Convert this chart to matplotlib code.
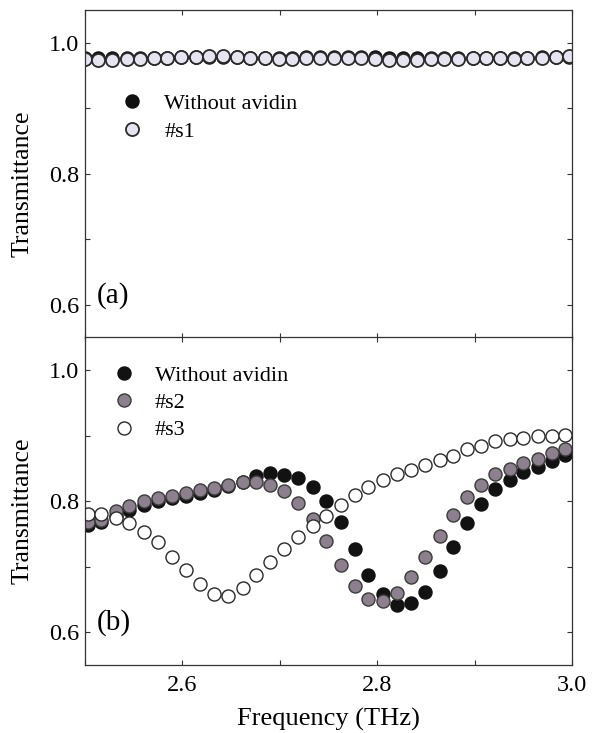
import matplotlib
matplotlib.use("Agg")
import matplotlib.pyplot as plt
from matplotlib.ticker import MultipleLocator, FormatStrFormatter

plt.rcParams['font.family'] = ['Liberation Serif', 'DejaVu Serif']

# panel (a): frequency grid and transmittance
freq_a = [2.500, 2.514, 2.528, 2.543, 2.557, 2.571, 2.585, 2.599, 2.614, 2.628,
          2.642, 2.656, 2.670, 2.685, 2.699, 2.713, 2.727, 2.741, 2.756, 2.770,
          2.784, 2.798, 2.812, 2.827, 2.841, 2.855, 2.869, 2.883, 2.898, 2.912,
          2.926, 2.940, 2.954, 2.969, 2.983, 2.997]
bare_a = [0.977, 0.976, 0.976, 0.976, 0.976, 0.977, 0.977, 0.978, 0.979, 0.979,
          0.979, 0.978, 0.977, 0.977, 0.977, 0.977, 0.978, 0.978, 0.978, 0.978,
          0.978, 0.978, 0.977, 0.977, 0.976, 0.976, 0.976, 0.976, 0.977, 0.977,
          0.977, 0.977, 0.977, 0.978, 0.979, 0.979]
s1 = [0.975, 0.974, 0.974, 0.975, 0.975, 0.976, 0.976, 0.978, 0.979, 0.980,
      0.980, 0.979, 0.977, 0.976, 0.975, 0.975, 0.976, 0.977, 0.976, 0.976,
      0.976, 0.975, 0.974, 0.974, 0.974, 0.975, 0.975, 0.975, 0.976, 0.976,
      0.976, 0.975, 0.976, 0.977, 0.979, 0.980]

# panel (b)
freq_b = [2.503, 2.517, 2.532, 2.546, 2.561, 2.575, 2.590, 2.604, 2.618, 2.633,
          2.647, 2.662, 2.676, 2.690, 2.705, 2.719, 2.734, 2.748, 2.763, 2.777,
          2.791, 2.806, 2.820, 2.835, 2.849, 2.864, 2.878, 2.892, 2.907, 2.921,
          2.936, 2.950, 2.965, 2.979, 2.993]
bare_b = [0.764, 0.769, 0.777, 0.787, 0.795, 0.800, 0.805, 0.808, 0.813, 0.817,
          0.823, 0.830, 0.839, 0.843, 0.840, 0.835, 0.822, 0.801, 0.768, 0.727,
          0.688, 0.659, 0.642, 0.645, 0.662, 0.693, 0.730, 0.767, 0.796, 0.818,
          0.833, 0.844, 0.853, 0.862, 0.871]
s2 = [0.769, 0.772, 0.785, 0.792, 0.800, 0.805, 0.808, 0.812, 0.817, 0.820,
      0.825, 0.830, 0.830, 0.825, 0.815, 0.797, 0.773, 0.739, 0.703, 0.670,
      0.651, 0.647, 0.660, 0.685, 0.715, 0.747, 0.779, 0.806, 0.825, 0.841,
      0.849, 0.858, 0.864, 0.873, 0.879]
s3 = [0.781, 0.780, 0.775, 0.766, 0.753, 0.737, 0.715, 0.695, 0.673, 0.659,
      0.656, 0.668, 0.687, 0.707, 0.727, 0.745, 0.762, 0.777, 0.794, 0.810,
      0.822, 0.832, 0.841, 0.848, 0.855, 0.863, 0.869, 0.879, 0.885, 0.892,
      0.895, 0.897, 0.899, 0.899, 0.901]

fig = plt.figure(figsize=(6.0, 7.33), dpi=100)
ax_a = fig.add_axes([0.141, 0.5393, 0.8125, 0.4471])
ax_b = fig.add_axes([0.141, 0.0928, 0.8125, 0.4468])

ms = 9.4
edge = '#2a2a2a'

ax_a.plot(freq_a, bare_a, 'o', ms=ms, mfc='#111111', mec='#111111', mew=1.0,
          label='Without avidin')
ax_a.plot(freq_a, s1, 'o', ms=ms, mfc='#e6e4f0', mec=edge, mew=1.3, label='#s1')

ax_b.plot(freq_b, bare_b, 'o', ms=ms, mfc='#121212', mec='#121212', mew=1.0,
          label='Without avidin')
ax_b.plot(freq_b, s2, 'o', ms=ms, mfc='#8d808e', mec='#3a3a3a', mew=1.0, label='#s2')
ax_b.plot(freq_b, s3, 'o', ms=ms, mfc='white', mec=edge, mew=1.0, label='#s3')

for ax, tag in [(ax_a, '(a)'), (ax_b, '(b)')]:
    ax.set_xlim(2.5, 3.0)
    ax.set_ylim(0.55, 1.05)
    ax.xaxis.set_major_locator(MultipleLocator(0.2))
    ax.xaxis.set_minor_locator(MultipleLocator(0.1))
    ax.yaxis.set_major_locator(MultipleLocator(0.2))
    ax.yaxis.set_minor_locator(MultipleLocator(0.1))
    ax.xaxis.set_major_formatter(FormatStrFormatter('%.1f'))
    ax.yaxis.set_major_formatter(FormatStrFormatter('%.1f'))
    ax.tick_params(which='both', direction='in', top=True, right=True,
                   length=3.5, width=0.8, color='#333333', labelsize=17.5,
                   pad=4)
    ax.tick_params(axis='x', pad=7)
    for sp in ax.spines.values():
        sp.set_color('#333333')
        sp.set_linewidth(0.9)
    ax.set_ylabel('Transmittance', fontsize=18.5)
    ax.yaxis.set_label_coords(-0.105, 0.47)
    ax.text(0.024, 0.13, tag, transform=ax.transAxes, fontsize=21,
            ha='left', va='center')

ax_a.tick_params(axis='x', labelbottom=False)
ax_b.set_xlabel('Frequency (THz)', fontsize=19, labelpad=9)

ax_a.legend(loc='upper left', bbox_to_anchor=(0.075, 0.745), frameon=False,
            fontsize=16, handlelength=1.0, handletextpad=0.95,
            labelspacing=0.33, borderpad=0, borderaxespad=0)
ax_b.legend(loc='upper left', bbox_to_anchor=(0.058, 0.915), frameon=False,
            fontsize=16, handlelength=1.0, handletextpad=0.9,
            labelspacing=0.3, borderpad=0, borderaxespad=0)

fig.savefig('out.png', dpi=100)
